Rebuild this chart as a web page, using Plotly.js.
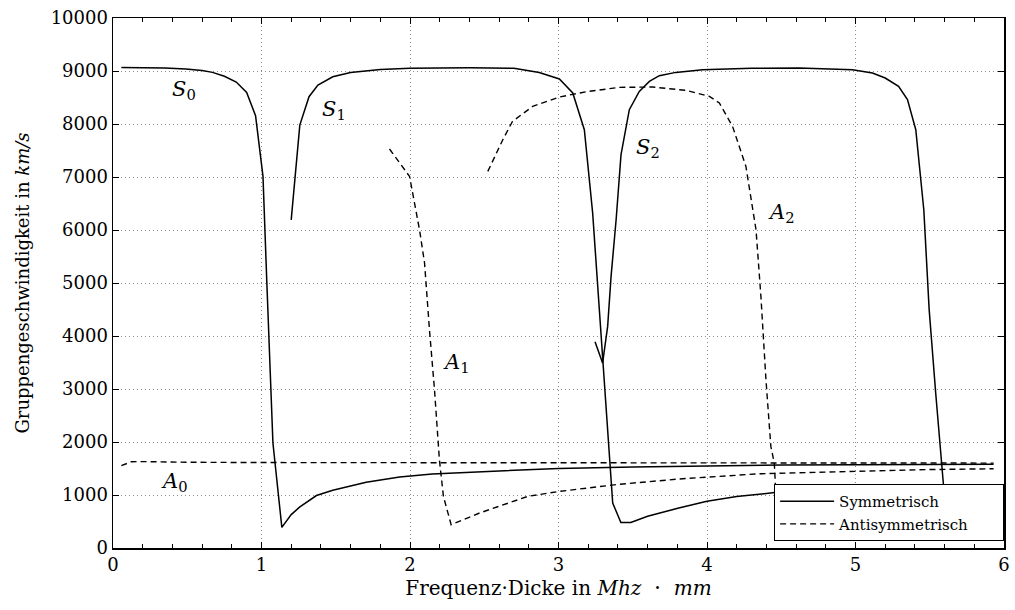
<!DOCTYPE html>
<html>
<head>
<meta charset="utf-8">
<script src="https://cdn.plot.ly/plotly-3.0.1.min.js"></script>
<style>html,body{margin:0;padding:0;background:#fff;}</style>
</head>
<body>
<div id="chart" style="width:1015px;height:610px;"></div>
<script>
// Symmetric modes
var s0X = [0.056, 0.2, 0.35, 0.49, 0.6, 0.67, 0.75, 0.83, 0.9, 0.96, 1.01, 1.036, 1.077, 1.137, 1.2, 1.256, 1.37, 1.48, 1.6, 1.705, 1.93, 2.15, 2.6, 3.0, 3.5, 4.0, 4.5, 5.0, 5.5, 5.93];
var s0Y = [9068, 9065, 9055, 9038, 9010, 8974, 8900, 8792, 8596, 8157, 7011, 5000, 1981, 390, 630, 770, 990, 1090, 1175, 1240, 1340, 1396, 1453, 1500, 1530, 1550, 1565, 1572, 1578, 1582];
var s1X = [1.20, 1.258, 1.32, 1.38, 1.48, 1.6, 1.8, 2.0, 2.4, 2.7, 2.87, 3.006, 3.096, 3.174, 3.23, 3.287, 3.30, 3.365, 3.42, 3.487, 3.6, 3.81, 4.0, 4.2, 4.47];
var s1Y = [6190, 7980, 8515, 8735, 8890, 8970, 9030, 9050, 9060, 9050, 8970, 8850, 8585, 7892, 6320, 3993, 3490, 849, 480, 480, 600, 755, 880, 970, 1050];
var s2X = [3.246, 3.297, 3.331, 3.354, 3.388, 3.421, 3.477, 3.544, 3.612, 3.679, 3.79, 3.97, 4.3, 4.62, 4.98, 5.114, 5.20, 5.29, 5.35, 5.406, 5.46, 5.496, 5.54, 5.575, 5.597, 5.62];
var s2Y = [3890, 3490, 4181, 5125, 6194, 7421, 8270, 8616, 8804, 8911, 8974, 9024, 9050, 9057, 9024, 8962, 8868, 8711, 8459, 7892, 6383, 4497, 2925, 1666, 1038, 600];
// Antisymmetric modes
var a0X = [0.056, 0.124, 0.2, 0.5, 1, 2, 3, 4, 5, 5.93];
var a0Y = [1553, 1628, 1630, 1618, 1612, 1608, 1606, 1604, 1603, 1602];
var a1X = [1.862, 1.997, 2.064, 2.098, 2.131, 2.165, 2.198, 2.225, 2.277, 2.468, 2.793, 3.006, 3.4, 3.813, 4.35, 4.62, 5.0, 5.5, 5.93];
var a1Y = [7528, 7011, 6006, 5377, 4119, 2987, 1666, 974, 440, 660, 974, 1068, 1200, 1302, 1400, 1420, 1450, 1480, 1495];
var a2X = [2.524, 2.625, 2.69, 2.826, 3.006, 3.186, 3.41, 3.634, 3.859, 4.016, 4.083, 4.172, 4.262, 4.33, 4.363, 4.397, 4.43, 4.453, 4.465, 4.48];
var a2Y = [7106, 7704, 8049, 8332, 8509, 8609, 8691, 8698, 8634, 8521, 8396, 7955, 7200, 6006, 4747, 3175, 1917, 1604, 974, 500];

var legendNames = ["Symmetrisch", "Antisymmetrisch"];
var modeLabels = ["<i>S</i><sub>0</sub>", "<i>S</i><sub>1</sub>", "<i>S</i><sub>2</sub>", "<i>A</i><sub>0</sub>", "<i>A</i><sub>1</sub>", "<i>A</i><sub>2</sub>"];
var labelX = [0.48, 1.49, 3.6, 0.415, 2.31, 4.5];
var labelY = [8640, 8270, 7540, 1238, 3490, 6315];

var FONT = "DejaVu Serif";
var solid = {color: "#000", width: 1.5};
var dashed = {color: "#000", width: 1.4, dash: "6px,4px"};
var legendPad = "&nbsp;&nbsp;&nbsp;&nbsp;&nbsp;&nbsp;";

var traces = [
  {x: s0X, y: s0Y, mode: "lines", line: solid, name: legendNames[0], showlegend: true, legendgroup: "s"},
  {x: s1X, y: s1Y, mode: "lines", line: solid, name: legendNames[0], showlegend: false, legendgroup: "s"},
  {x: s2X, y: s2Y, mode: "lines", line: solid, name: legendNames[0], showlegend: false, legendgroup: "s"},
  {x: a0X, y: a0Y, mode: "lines", line: dashed, name: legendNames[1] + legendPad, showlegend: true, legendgroup: "a"},
  {x: a1X, y: a1Y, mode: "lines", line: dashed, name: legendNames[1], showlegend: false, legendgroup: "a"},
  {x: a2X, y: a2Y, mode: "lines", line: dashed, name: legendNames[1], showlegend: false, legendgroup: "a"}
];

var annotations = modeLabels.map(function (t, i) {
  return {x: labelX[i], y: labelY[i], xref: "x", yref: "y", text: t, showarrow: false,
          font: {family: FONT, size: 21, color: "#000"}};
});

var axisCommon = {
  showline: true, linecolor: "#000", linewidth: 1.5, mirror: "ticks",
  ticks: "inside", ticklen: 6, tickcolor: "#000", tickwidth: 1,
  showgrid: true, gridcolor: "#8c8c8c", gridwidth: 1, griddash: "1px,3px",
  zeroline: false, tickfont: {family: FONT, size: 18, color: "#000"}
};

var layout = {
  width: 1015, height: 610,
  margin: {l: 113, r: 11, t: 18, b: 62},
  paper_bgcolor: "#fff", plot_bgcolor: "#fff",
  font: {family: FONT, color: "#000"},
  xaxis: Object.assign({}, axisCommon, {
    range: [0, 6], tick0: 0, dtick: 1,
    minor: {ticks: "inside", ticklen: 4, tickcolor: "#000", dtick: 0.2, showgrid: false},
    title: {text: "Frequenz·Dicke in <i>Mhz</i>  <span style=\"font-size:22px\">·</span>  <i>mm</i>",
            font: {family: FONT, size: 20, color: "#000"}, standoff: 6}
  }),
  yaxis: Object.assign({}, axisCommon, {
    range: [0, 10000], tick0: 0, dtick: 1000, tickformat: "d",
    title: {text: "Gruppengeschwindigkeit in <i>km/s</i>", font: {family: FONT, size: 18, color: "#000"}, standoff: 16}
  }),
  legend: {
    x: 0.742, y: 0.013, xanchor: "left", yanchor: "bottom",
    bgcolor: "#fff", bordercolor: "#000", borderwidth: 1,
    font: {family: FONT, size: 15, color: "#000"},
    tracegroupgap: 0, itemwidth: 54
  },
  annotations: annotations
};

Plotly.newPlot("chart", traces, layout, {staticPlot: true});
</script>
</body>
</html>
